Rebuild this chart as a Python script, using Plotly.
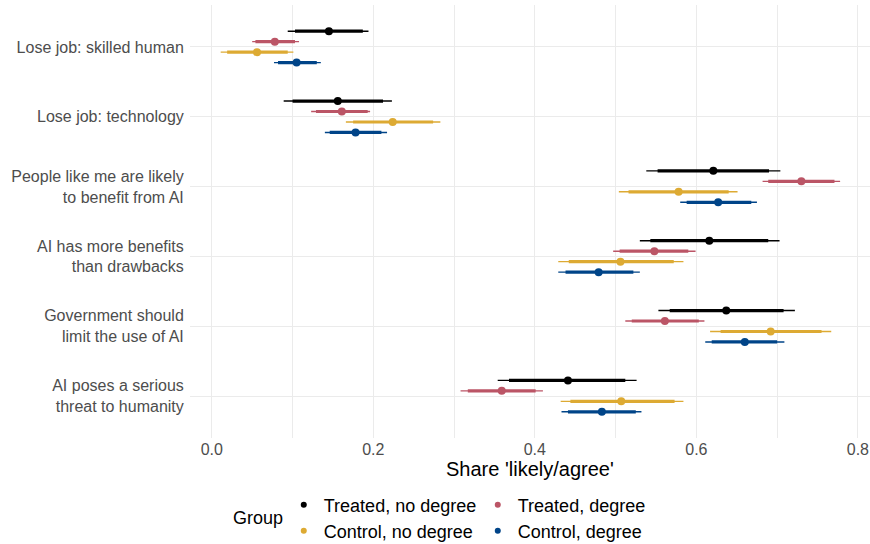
import plotly.graph_objects as go

items = [
    "Lose job: skilled human",
    "Lose job: technology",
    "People like me are likely<br>to benefit from AI",
    "AI has more benefits<br>than drawbacks",
    "Government should<br>limit the use of AI",
    "AI poses a serious<br>threat to humanity",
]
groups = ["Treated, no degree", "Treated, degree", "Control, no degree", "Control, degree"]
colors = ["#000000", "#BB5566", "#DDAA33", "#004488"]

# estimates per group, items in order above (top to bottom)
est_treated_nodeg = [0.145, 0.156, 0.621, 0.616, 0.637, 0.441]
est_treated_deg = [0.078, 0.161, 0.730, 0.548, 0.561, 0.359]
est_control_nodeg = [0.056, 0.224, 0.578, 0.506, 0.692, 0.507]
est_control_deg = [0.105, 0.178, 0.627, 0.479, 0.660, 0.483]

# outer (95%) intervals
lo95_treated_nodeg = [0.094, 0.089, 0.538, 0.530, 0.553, 0.354]
hi95_treated_nodeg = [0.194, 0.223, 0.704, 0.703, 0.722, 0.526]
lo95_treated_deg = [0.050, 0.123, 0.682, 0.497, 0.512, 0.308]
hi95_treated_deg = [0.108, 0.196, 0.778, 0.599, 0.610, 0.410]
lo95_control_nodeg = [0.011, 0.166, 0.504, 0.429, 0.617, 0.432]
hi95_control_nodeg = [0.101, 0.283, 0.651, 0.584, 0.767, 0.584]
lo95_control_deg = [0.077, 0.140, 0.580, 0.429, 0.611, 0.433]
hi95_control_deg = [0.135, 0.217, 0.675, 0.530, 0.709, 0.532]

# inner (90%) intervals
lo90_treated_nodeg = [0.103, 0.100, 0.552, 0.543, 0.567, 0.368]
hi90_treated_nodeg = [0.187, 0.212, 0.690, 0.689, 0.708, 0.512]
lo90_treated_deg = [0.054, 0.129, 0.689, 0.505, 0.520, 0.317]
hi90_treated_deg = [0.103, 0.193, 0.771, 0.590, 0.603, 0.401]
lo90_control_nodeg = [0.019, 0.175, 0.516, 0.442, 0.630, 0.444]
hi90_control_nodeg = [0.094, 0.274, 0.640, 0.572, 0.755, 0.573]
lo90_control_deg = [0.082, 0.146, 0.588, 0.438, 0.619, 0.441]
hi90_control_deg = [0.130, 0.210, 0.668, 0.522, 0.700, 0.525]

x_ticks = [0.0, 0.2, 0.4, 0.6, 0.8]

series = [
    (est_treated_nodeg, lo95_treated_nodeg, hi95_treated_nodeg, lo90_treated_nodeg, hi90_treated_nodeg),
    (est_treated_deg, lo95_treated_deg, hi95_treated_deg, lo90_treated_deg, hi90_treated_deg),
    (est_control_nodeg, lo95_control_nodeg, hi95_control_nodeg, lo90_control_nodeg, hi90_control_nodeg),
    (est_control_deg, lo95_control_deg, hi95_control_deg, lo90_control_deg, hi90_control_deg),
]
dodge = [0.225, 0.075, -0.075, -0.225]
n = len(items)
base_y = [n - i for i in range(n)]  # top item at highest position

FONT = "Liberation Sans, Arial, sans-serif"
fig = go.Figure()


def segs(lo, hi, ys):
    xs, yy = [], []
    for a, b, y in zip(lo, hi, ys):
        xs += [a, b, None]
        yy += [y, y, None]
    return xs, yy


for g, (name, col, (est, l95, h95, l90, h90), d) in enumerate(zip(groups, colors, series, dodge)):
    ys = [b + d for b in base_y]
    xs, yy = segs(l95, h95, ys)
    fig.add_trace(go.Scatter(x=xs, y=yy, mode="lines", line=dict(color=col, width=1.4),
                             showlegend=False, hoverinfo="skip"))
    xs, yy = segs(l90, h90, ys)
    fig.add_trace(go.Scatter(x=xs, y=yy, mode="lines", line=dict(color=col, width=3.2),
                             showlegend=False, hoverinfo="skip"))
    fig.add_trace(go.Scatter(x=est, y=ys, mode="markers", marker=dict(color=col, size=8),
                             showlegend=False, name=name))

# legend entries (two rows of two)
for g, (name, col) in enumerate(zip(groups, colors)):
    fig.add_trace(go.Scatter(x=[None], y=[None], mode="markers", name=name,
                             marker=dict(color=col, size=6),
                             legend="legend" if g < 2 else "legend2"))

legend_common = dict(orientation="h", xanchor="left", yanchor="middle",
                     font=dict(family=FONT, size=18, color="#000000"),
                     bgcolor="rgba(0,0,0,0)", entrywidth=149, entrywidthmode="pixels",
                     itemclick=False, itemdoubleclick=False)

fig.update_layout(
    width=870, height=544,
    margin=dict(l=190, r=0, t=5, b=106, autoexpand=False),
    paper_bgcolor="white", plot_bgcolor="white",
    font=dict(family=FONT, color="#000000"),
    legend=dict(x=0.1379, y=-0.1547, **legend_common),
    legend2=dict(x=0.1379, y=-0.2148, **legend_common),
    annotations=[
        dict(text="Group", xref="paper", yref="paper", x=0.1007, y=-0.1848,
             xanchor="center", yanchor="middle", showarrow=False,
             font=dict(family=FONT, size=18, color="#000000")),
        dict(text="Share 'likely/agree'", xref="paper", yref="paper", x=0.5, y=-0.0716,
             xanchor="center", yanchor="middle", showarrow=False,
             font=dict(family=FONT, size=20, color="#000000")),
    ],
)

fig.update_xaxes(
    range=[-0.027, 0.815], tickvals=x_ticks, tickformat=".1f",
    showgrid=True, gridcolor="#EBEBEB", gridwidth=1,
    minor=dict(dtick=0.1, tick0=0, showgrid=True, gridcolor="#EBEBEB", gridwidth=0.6),
    zeroline=False, showline=False, ticks="",
    tickfont=dict(family=FONT, size=16, color="#4D4D4D"),
    automargin=False,
)
fig.update_yaxes(
    range=[0.4, 6.6], tickvals=base_y, ticktext=items,
    showgrid=True, gridcolor="#EBEBEB", gridwidth=1,
    zeroline=False, showline=False, ticks="outside", ticklen=2, tickcolor="rgba(0,0,0,0)",
    tickfont=dict(family=FONT, size=16, color="#4D4D4D"),
    automargin=False,
)

fig.write_html("out.html", config={"displayModeBar": False},
               post_script="document.body.style.margin='0';")
